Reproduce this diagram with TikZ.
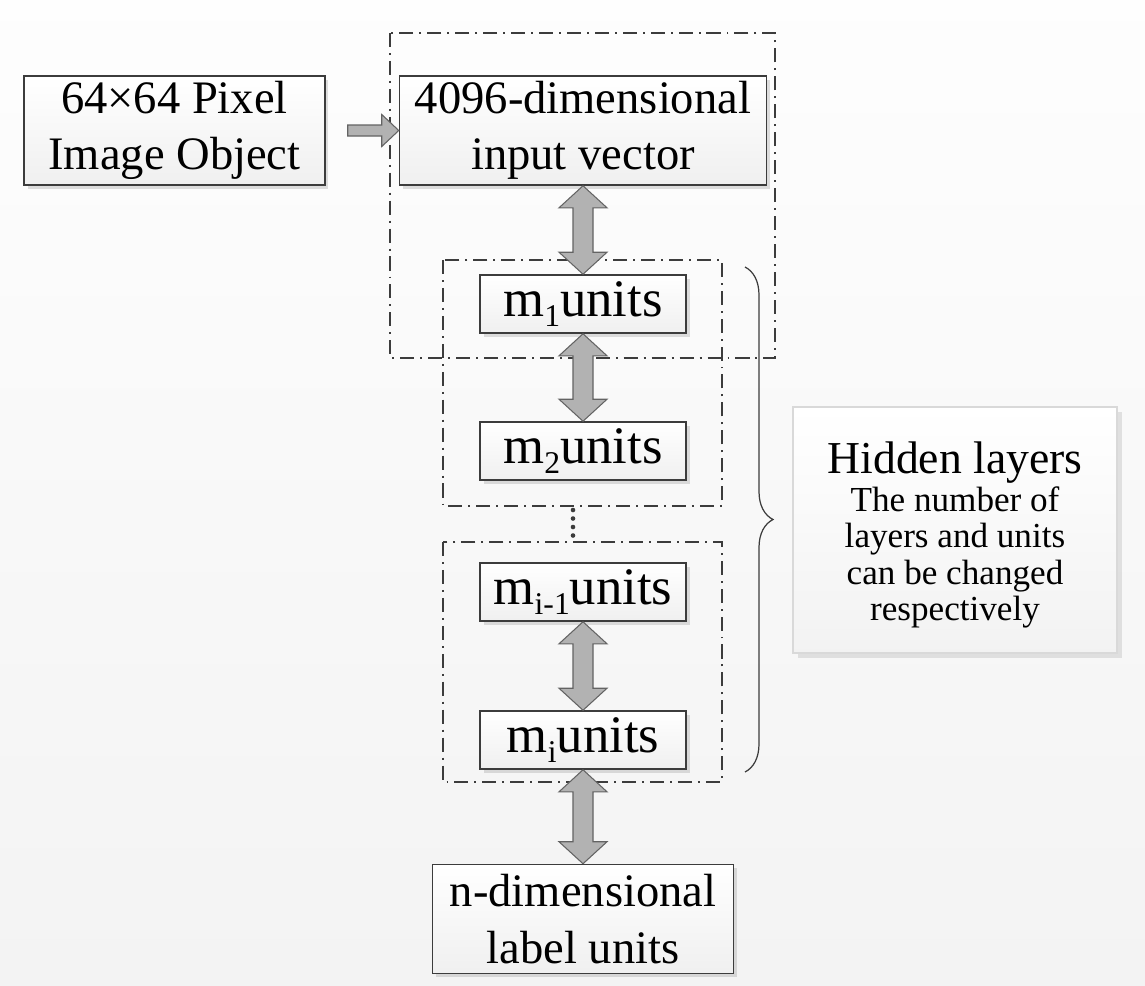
\documentclass[tikz,border=0pt]{standalone}
\usepackage{fontspec}
\setmainfont{Liberation Serif}
\usetikzlibrary{calc,shadows,decorations.pathreplacing}
\definecolor{bgpaper}{HTML}{F3F3F3}
\definecolor{edgegray}{HTML}{3C3C3C}
\definecolor{arrowgray}{HTML}{B2B2B2}
\tikzset{%
    unitbox/.style={rectangle,draw=edgegray,line width=0.9pt,top color=white,bottom color=gray!12,
        drop shadow={shadow xshift=2pt,shadow yshift=-2pt,opacity=.25},
        align=center,inner sep=0pt,font=\fontsize{26.5}{32}\selectfont},
    widebox/.style={unitbox,minimum width=6.02cm,minimum height=2.18cm},
    layerbox/.style={unitbox,minimum width=4.12cm,minimum height=1.16cm,font=\fontsize{30}{32}\selectfont},
    layerframe/.style={draw=edgegray,line width=0.8pt,dash pattern=on 8pt off 3.4pt on 1.1pt off 3.4pt},
    blockarrow/.style={draw=edgegray!80,fill=arrowgray,line width=0.6pt,line join=miter},
    notebox/.style={rectangle,draw=gray!30,line width=0.8pt,top color=white,bottom color=gray!10,
        drop shadow={shadow xshift=3pt,shadow yshift=-3pt,opacity=.2},
        minimum width=6.48cm,minimum height=4.92cm}
}
% lowered small index after the m of a layer name
\newcommand\lsub[1]{\raisebox{-0.2em}{\fontsize{18}{18}\selectfont#1}}
% vertical double block arrow from the box above (#1) to the box below (#2)
\newcommand\dblarrow[2]{%
    \draw[blockarrow] (#1.south)
        -- ([shift={(-24,22)}]#1.south) -- ([shift={(-10,22)}]#1.south)
        -- ([shift={(-10,-22)}]#2.north) -- ([shift={(-24,-22)}]#2.north)
        -- (#2.north)
        -- ([shift={(24,-22)}]#2.north) -- ([shift={(10,-22)}]#2.north)
        -- ([shift={(10,22)}]#1.south) -- ([shift={(24,22)}]#1.south) -- cycle;
}

\begin{document}
\begin{tikzpicture}[x=0.02cm,y=-0.02cm]
    \useasboundingbox[top color=gray!1,bottom color=bgpaper] (0,0) rectangle (1145,985);
    % layer groups
    \draw[layerframe] (390,33) rectangle (775,358);
    \draw[layerframe] (443,260) rectangle (722,506);
    \draw[layerframe] (443,542) rectangle (722,782);
    \foreach \y in {510,518.5,527,535.5}
        \fill[edgegray] (573,\y) circle (2.3);
    %%%%%
    \node[widebox] (pix) at (174.5,130.5) {64×64 Pixel\\Image Object};
    \node[widebox,minimum width=7.34cm] (inp) at (583,130.5) {4096-dimensional\\input vector};
    \node[layerbox] (m1) at (583,304) {m\lsub{1}units};
    \node[layerbox] (m2) at (583,451) {m\lsub{2}units};
    \node[layerbox] (mi1) at (583,592) {m\lsub{i-1}units};
    \node[layerbox] (mi) at (583,740) {m\lsub{i}units};
    \node[widebox] (out) at (583,919) {n-dimensional\\label units};
    %%%%%
    \draw[blockarrow] ([shift={(22,-5.5)}]pix.east) -- ([shift={(-17,-5.5)}]inp.west)
        -- ([shift={(-17,-16)}]inp.west) -- (inp.west) -- ([shift={(-17,16)}]inp.west)
        -- ([shift={(-17,5.5)}]inp.west) -- ([shift={(22,5.5)}]pix.east) -- cycle;
    \dblarrow{inp}{m1}
    \dblarrow{m1}{m2}
    \dblarrow{mi1}{mi}
    \dblarrow{mi}{out}
    %%%%%
    \draw[edgegray,line width=0.7pt,decorate,decoration={brace,amplitude=0.56cm}] (745,267) -- (745,772);
    \node[notebox] (hid) at (955,530) {};
    \node[align=center,font=\fontsize{20}{20.8}\selectfont] (hidtxt) at (955,535)
        {{\fontsize{26}{28}\selectfont Hidden layers}\\[0.6pt]The number of\\layers and units\\can be changed\\respectively};
\end{tikzpicture}
\end{document}
